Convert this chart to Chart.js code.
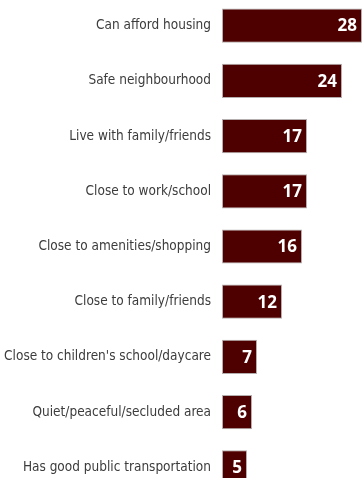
<!DOCTYPE html>
<html>
<head>
<meta charset="utf-8">
<script src="https://cdn.jsdelivr.net/npm/chart.js"></script>
<style>
  body { margin: 0; overflow: hidden; background: #fff; }
  #wrap { position: relative; top: -2px; width: 363px; height: 497px; }
</style>
</head>
<body>
<div id="wrap">
  <canvas id="chartNhaO" width="363" height="497"></canvas>
</div>
<script>
  // Dữ liệu
  const reasons = [
    'Can afford housing',
    'Safe neighbourhood',
    'Live with family/friends',
    'Close to work/school',
    'Close to amenities/shopping',
    'Close to family/friends',
    "Close to children's school/daycare",
    'Quiet/peaceful/secluded area',
    'Has good public transportation'
  ];
  const values = [28, 24, 17, 17, 16, 12, 7, 6, 5];

  // Vẽ số trắng bên trong thanh
  const valueLabels = {
    id: 'valueLabels',
    afterDatasetsDraw(chart) {
      const ctx = chart.ctx;
      const meta = chart.getDatasetMeta(0);
      ctx.save();
      ctx.fillStyle = '#ffffff';
      ctx.font = 'bold 17px "Open Sans", sans-serif';
      ctx.textAlign = 'right';
      ctx.textBaseline = 'middle';
      meta.data.forEach((bar, i) => {
        ctx.fillText(values[i], bar.x - 5, bar.y + 1);
      });
      ctx.restore();
    }
  };

  var ctx = document.getElementById('chartNhaO').getContext('2d');
  var chart = new Chart(ctx, {
    type: 'bar',
    data: {
      labels: reasons,
      datasets: [{
        data: values,
        backgroundColor: '#4e0000',
        borderColor: '#b5aeae',
        borderWidth: 1,
        borderSkipped: false,
        barPercentage: 0.62,
        categoryPercentage: 1
      }]
    },
    options: {
      indexAxis: 'y',
      responsive: false,
      animation: false,
      layout: { padding: { top: 0, right: 1, bottom: 0, left: 0 } },
      plugins: {
        legend: { display: false },
        tooltip: { enabled: false }
      },
      scales: {
        x: { display: false, min: 0, max: 28 },
        y: {
          grid: { display: false, drawTicks: false },
          border: { display: false },
          ticks: {
            padding: 11,
            color: '#3c3c3c',
            font: { family: "'Liberation Sans Narrow', 'DejaVu Sans Condensed', sans-serif", size: 13.5 }
          },
          afterFit(scale) {
            scale.width = 222;
            scale.paddingTop = 0;
            scale.paddingBottom = 0;
          }
        }
      }
    },
    plugins: [valueLabels]
  });
</script>
</body>
</html>
